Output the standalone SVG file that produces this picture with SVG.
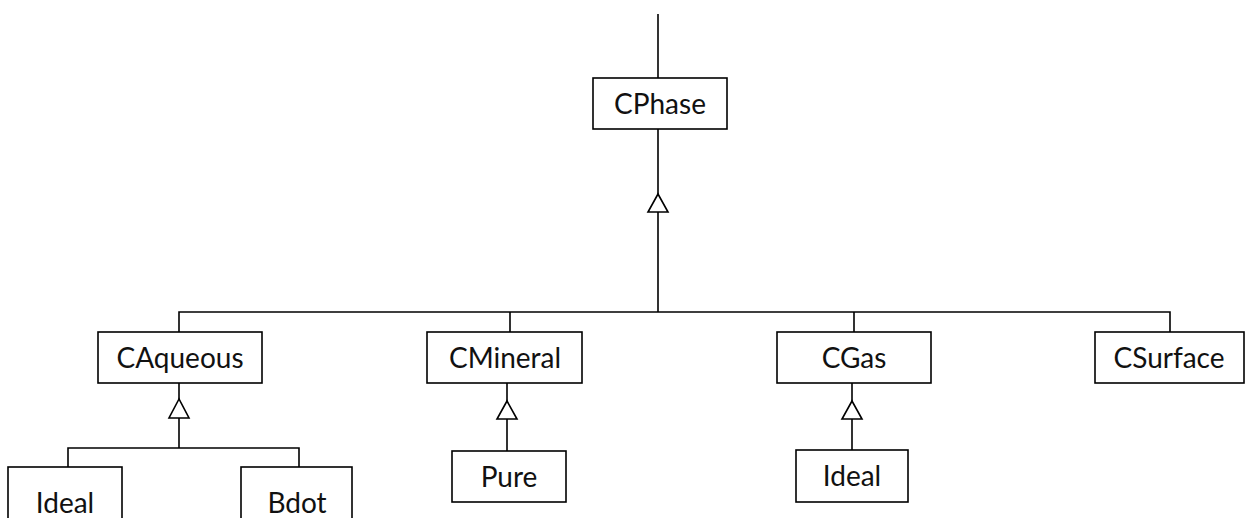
<svg xmlns="http://www.w3.org/2000/svg" width="1245" height="518" viewBox="0 0 1245 518">
<style>
.box{fill:#fff;stroke:#000;stroke-width:1.6}
.lbl{font-family:Lato,"Open Sans",sans-serif;font-size:28px;fill:#111;text-anchor:middle}
.ln{fill:none;stroke:#000;stroke-width:1.6}
.tri{fill:#fff;stroke:#000;stroke-width:1.6}
</style>
<rect width="1245" height="518" fill="#fff"/>
<g id="connectors">
<path class="ln" d="M658,14 V78"/>
<path class="ln" d="M658,129 V194 M658,212 V312"/>
<path class="ln" d="M179,332 V312 H1170 V332"/>
<path class="ln" d="M510,312 V332 M854,312 V332"/>
<polygon class="tri" points="658,194 648,212 668,212"/>
<path class="ln" d="M179,383 V399 M179,418 V448 M68,467 V448 H299 V467"/>
<polygon class="tri" points="179,399 169,418 189,418"/>
<path class="ln" d="M507,383 V401 M507,419 V451"/>
<polygon class="tri" points="507,401 497,419 517,419"/>
<path class="ln" d="M852,383 V401 M852,419 V450"/>
<polygon class="tri" points="852,401 842,419 862,419"/>
</g>
<g id="CPhase"><rect class="box" x="593" y="78" width="134" height="51"/><text class="lbl" x="660" y="114">CPhase</text></g>
<g id="CAqueous"><rect class="box" x="98" y="332" width="164" height="51"/><text class="lbl" x="180" y="368">CAqueous</text></g>
<g id="CMineral"><rect class="box" x="427" y="332" width="155" height="51"/><text class="lbl" x="505" y="368">CMineral</text></g>
<g id="CGas"><rect class="box" x="777" y="332" width="154" height="51"/><text class="lbl" x="854" y="368">CGas</text></g>
<g id="CSurface"><rect class="box" x="1095" y="332" width="149" height="51"/><text class="lbl" x="1169" y="368">CSurface</text></g>
<g id="IdealAq"><rect class="box" x="8" y="467" width="114" height="60"/><text class="lbl" x="65" y="513">Ideal</text></g>
<g id="Bdot"><rect class="box" x="241" y="467" width="111" height="60"/><text class="lbl" x="297" y="513">Bdot</text></g>
<g id="Pure"><rect class="box" x="452" y="451" width="114" height="51"/><text class="lbl" x="509" y="487">Pure</text></g>
<g id="IdealGas"><rect class="box" x="796" y="450" width="112" height="52"/><text class="lbl" x="852" y="486">Ideal</text></g>
</svg>
